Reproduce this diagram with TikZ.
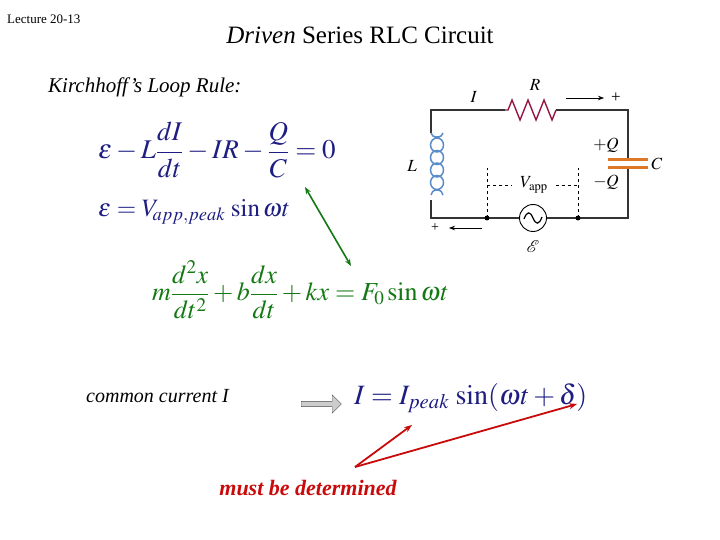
\documentclass[tikz,border=0pt]{standalone}
\usepackage{amsmath}
\usepackage{mathptmx}
\usepackage{fontspec}
\setmainfont{Liberation Serif}
\usetikzlibrary{decorations.pathmorphing,arrows.meta,shapes.arrows}
\definecolor{eqblue}{RGB}{30,30,130}
\definecolor{eqgreen}{RGB}{20,120,20}
\definecolor{resred}{RGB}{150,20,70}
\definecolor{indblue}{RGB}{90,140,200}
\definecolor{capor}{RGB}{220,120,40}
\definecolor{mred}{RGB}{200,10,10}
\begin{document}
\begin{tikzpicture}[x=1pt,y=-1pt,
  wire/.style={line width=1.4pt,black!80},
  lbl/.style={inner sep=0pt,font=\fontsize{17}{17}\selectfont},
  dsh/.style={dashed,line width=0.7pt}]
\useasboundingbox (0,0) rectangle (720,540);
\node[anchor=west,inner sep=0pt,font=\fontsize{13}{13}\selectfont] (lec) at (7,19) {Lecture 20-13};
\node[inner sep=0pt,font=\fontsize{25}{25}\selectfont] (title) at (360,35) {\textit{Driven} Series RLC Circuit};
\node[anchor=west,inner sep=0pt,font=\fontsize{21}{21}\selectfont\itshape] (kir) at (48,87) {Kirchhoff's Loop Rule:};
% equations
\node[anchor=west,inner sep=0pt,text=eqblue,font=\fontsize{27}{27}\selectfont] (eq1) at (98,150) {$\varepsilon - L\dfrac{dI}{dt} - IR - \dfrac{Q}{C} = 0$};
\node[anchor=west,inner sep=0pt,text=eqblue,font=\fontsize{25}{25}\selectfont] (eq2) at (98,212) {$\varepsilon = V_{\!app,peak}\,\sin\omega t$};
\node[anchor=west,inner sep=0pt,text=eqgreen,font=\fontsize{26}{26}\selectfont] (eq3) at (152,290) {$m\dfrac{d^2x}{dt^2} + b\dfrac{dx}{dt} + kx = F_0\sin\omega t$};
\coordinate (ga) at (305,187);
\coordinate (gb) at (351,266);
\draw[eqgreen,line width=1.6pt,{Stealth[length=7pt]}-{Stealth[length=7pt]}] (ga) -- (gb);
% circuit
\coordinate (tl) at (431,110); \coordinate (tr) at (628,110);
\coordinate (bl) at (431,218); \coordinate (br) at (628,218);
\coordinate (r1) at (505,110); \coordinate (r2) at (556,110);
\coordinate (l1) at (431,133); \coordinate (l2) at (431,200);
\coordinate (c1) at (628,160); \coordinate (c2) at (628,168);
\coordinate (d1) at (487,218); \coordinate (d2) at (578,218);
\draw[wire] (l1) -- (tl) -- (r1);
\draw[wire] (r2) -- (tr) -- (c1);
\draw[wire] (c2) -- (br) -- (bl) -- (l2);
\draw[resred,line width=1.4pt] (r1) -- ++(3,0) -- ++(4,-10) -- ++(8,20) -- ++(8,-20) -- ++(8,20) -- ++(8,-20) -- ++(8,20) -- ++(4,-10) -- (r2);
\draw[indblue,line width=1.5pt] (l1) arc[start angle=180,end angle=0,x radius=6,y radius=4]
  foreach \k in {0,1,2,3} {(437,{145+12.5*\k}) ellipse[x radius=6.5,y radius=7]}
  (443,195) arc[start angle=0,end angle=-180,x radius=6,y radius=5];
\draw[capor,line width=3pt] (608,160) -- (648,160) (608,168) -- (648,168);
\node[circle,draw,line width=0.9pt,fill=white,minimum size=27pt,inner sep=0pt] (src) at (533,218) {};
\draw[line width=1.2pt] (524,219) .. controls (527,211) and (530,211) .. (533,218) .. controls (536,225) and (539,225) .. (542,217);
\fill (d1) circle (2.5pt) (d2) circle (2.5pt);
\draw[dsh] (d1) -- (487,168) (d2) -- (578,168);
\draw[dsh] (487,185) -- (512,185) (556,185) -- (578,185);
\node[lbl] (vapp) at (534,185) {$V_{\mathrm{app}}$};
\node[lbl] (il) at (474,97) {$I$};
\node[lbl] (rl) at (535,85) {$R$};
\coordinate (a1) at (566,98); \coordinate (a2) at (604,98);
\draw[-{Stealth[length=6pt]},line width=0.7pt] (a1) -- (a2);
\node[lbl] (p1) at (616,98) {+};
\node[lbl] (pq) at (606,145) {$+Q$};
\node[lbl] (mq) at (606,182) {$-Q$};
\node[lbl] (cl) at (657,164) {$C$};
\node[lbl] (ll) at (412,166) {$L$};
\node[lbl,font=\fontsize{14}{14}\selectfont] (p2) at (435,228) {+};
\coordinate (b1) at (482,228); \coordinate (b2) at (449,228);
\draw[-{Stealth[length=6pt]},line width=0.7pt] (b1) -- (b2);
\node[lbl] (emf) at (533,247) {$\mathcal{E}$};
% bottom
\node[anchor=west,inner sep=0pt,font=\fontsize{20}{20}\selectfont\itshape] (cc) at (86,396) {common current I};
\node[single arrow,draw=black!70,fill=black!20,minimum height=40pt,minimum width=18pt,single arrow head extend=3pt,inner sep=1pt] (blk) at (320,404) {};
\node[anchor=west,inner sep=0pt,text=eqblue,font=\fontsize{28}{28}\selectfont] (eq4) at (354,398) {$I = I_{peak}\,\sin(\omega t+\delta)$};
\node[inner sep=0pt,text=mred,font=\fontsize{22}{22}\selectfont\bfseries\itshape] (must) at (308,488) {must be determined};
\coordinate (ro) at (355,467);
\coordinate (rt1) at (412,425); \coordinate (rt2) at (577,404);
\draw[mred,line width=1.8pt,-{Stealth[length=8pt]}] (ro) -- (rt1);
\draw[mred,line width=1.8pt,-{Stealth[length=8pt]}] (ro) -- (rt2);
\end{tikzpicture}
\end{document}
